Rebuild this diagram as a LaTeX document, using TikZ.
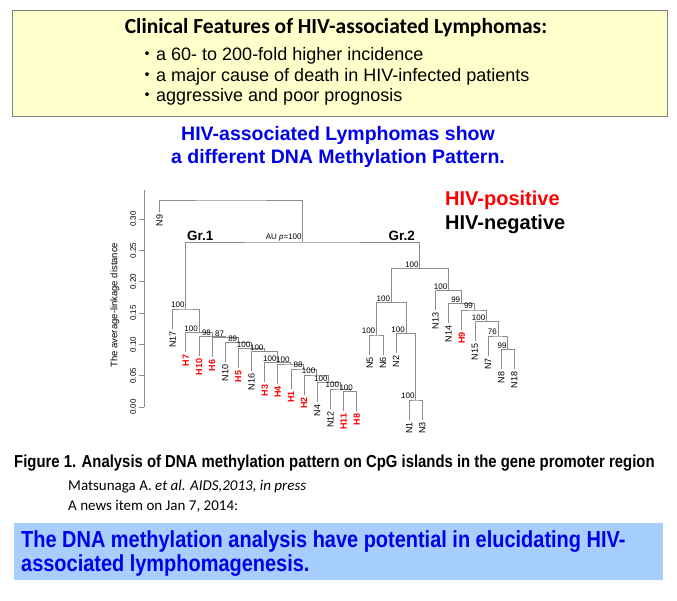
\documentclass[tikz,border=0pt]{standalone}
\usepackage{fontspec}
\setmainfont{Liberation Sans}
\newfontfamily\calibrifont{Carlito}
\newfontfamily\narrowfont[FakeStretch=0.86]{Liberation Sans}
\newfontfamily\jpfont{Noto Sans CJK JP}
\usetikzlibrary{positioning}
\definecolor{hivred}{RGB}{255,0,0}
\definecolor{headblue}{RGB}{0,0,235}
\definecolor{boxyellow}{RGB}{255,255,204}
\definecolor{boxblue}{RGB}{166,206,255}
\definecolor{treegray}{RGB}{140,140,140}
\definecolor{framegray}{RGB}{128,128,128}
\newcommand{\treefont}{\fontsize{8}{9}\selectfont}
\tikzset{
  treeline/.style={draw=treegray, line width=0.8pt},
  aup/.style={anchor=south east, inner sep=1pt, font=\treefont},
  leafN/.style={rotate=90, anchor=east, inner sep=1pt, font=\fontsize{9}{10}\selectfont},
  leafH/.style={leafN, text=hivred, font=\fontsize{9}{10}\selectfont\bfseries},
  featbox/.style={draw=framegray, fill=boxyellow, line width=0.8pt, minimum width=655pt, minimum height=106pt},
  featitem/.style={anchor=west, inner sep=0pt, font=\fontsize{18}{21}\selectfont},
  heading/.style={text=headblue, inner sep=1pt, font=\bfseries\fontsize{19.5}{22}\selectfont},
  legend/.style={anchor=west, inner sep=0pt, font=\bfseries\fontsize{20}{23}\selectfont},
  grp/.style={inner sep=1pt, font=\bfseries\fontsize{13.5}{15}\selectfont},
  conclbox/.style={fill=boxblue, minimum width=649pt, minimum height=57pt},
  concltext/.style={anchor=west, text=headblue, align=left, inner sep=0pt,
    font=\narrowfont\bfseries\fontsize{23.2}{24}\selectfont}
}
\begin{document}
\begin{tikzpicture}[x=1pt,y=-1pt]
\fill[white] (0,0) rectangle (677,600);
\useasboundingbox (0,0) rectangle (677,600);
% clinical features
\node[featbox] (feat) at (339.5,63) {};
\node[font=\calibrifont\bfseries\fontsize{21.5}{24}\selectfont] (feattitle) at (336,28) {Clinical Features of HIV-associated Lymphomas:};
\node[featitem] (item1) at (138,56) {{\jpfont ・}a 60- to 200-fold higher incidence};
\node[featitem] (item2) at (138,77) {{\jpfont ・}a major cause of death in HIV-infected patients};
\node[featitem] (item3) at (138,97) {{\jpfont ・}aggressive and poor prognosis};
\node[heading] (head1) at (338,135) {HIV-associated Lymphomas show};
\node[heading, below=3pt of head1] (head2) {a different DNA Methylation Pattern.};
\node[legend, text=hivred] (pos) at (445,200) {HIV-positive};
\node[legend] (neg) at (445,224) {HIV-negative};
% axis
\draw[treeline] (144,407) -- (144,190);
\foreach \t/\lab in {0/0.00,1/0.05,2/0.10,3/0.15,4/0.20,5/0.25,6/0.30}{
  \draw[treeline] (144,407-31.3*\t) -- (139,407-31.3*\t);
  \node[rotate=90, inner sep=0pt, font=\treefont] (tick\t) at (133,407-31.3*\t) {\lab};
}
\node[rotate=90, font=\fontsize{9.5}{11}\selectfont] (ylab) at (115,305) {The average-linkage distance};
% leaves
\foreach \nm/\i/\ye/\st in {N9/0/212/leafN, N17/1/328.5/leafN, H7/2/351.8/leafH, H10/3/355.8/leafH,
  H6/4/356.8/leafH, N10/5/362.2/leafN, H5/6/367.8/leafH, N16/7/371.2/leafN, H3/8/381.8/leafH,
  H4/9/383.5/leafH, H1/10/388.5/leafH, H2/11/394.5/leafH, N4/12/401.8/leafN, N12/13/408.5/leafN,
  H11/14/411/leafH, H8/15/411/leafH, N5/16/354.5/leafN, N6/17/354.5/leafN, N2/18/352.8/leafN,
  N1/19/419.5/leafN, N3/20/419.5/leafN, N13/21/310.2/leafN, N14/22/323.2/leafN, H9/23/329.5/leafH,
  N15/24/341.2/leafN, N7/25/355.5/leafN, N8/26/369/leafN, N18/27/369/leafN}{
  \coordinate (\nm) at (159.56+13.14*\i,\ye);
  \node[\st] (lab-\nm) at ([yshift=-1.5pt]\nm) {\nm};
}
% joins
\coordinate (g1n) at (350.09,391.5);
\coordinate (g1m) at (340.24,389);
\coordinate (g1l) at (328.74,382.3);
\coordinate (g1k) at (316.42,375);
\coordinate (g1j) at (303.69,369);
\coordinate (g1i) at (290.76,364);
\coordinate (g1h) at (277.72,362.3);
\coordinate (g1g) at (264.63,351.7);
\coordinate (g1f) at (251.52,348.3);
\coordinate (g1e) at (238.39,342.7);
\coordinate (g1d) at (225.26,337.3);
\coordinate (g1c) at (212.12,336.3);
\coordinate (g1b) at (198.98,332.3);
\coordinate (g1a) at (185.84,309);
\coordinate (g2p) at (507.77,349.5);
\coordinate (g2o) at (497.92,336);
\coordinate (g2q) at (486.42,321.7);
\coordinate (g2r) at (474.10,310);
\coordinate (g2s) at (461.37,303.7);
\coordinate (g2t) at (448.44,290.7);
\coordinate (g2m) at (415.79,400);
\coordinate (g2k) at (405.94,333.3);
\coordinate (g2j) at (376.37,335);
\coordinate (g2l) at (391.16,302.3);
\coordinate (g2) at (419.80,268.3);
\coordinate (top) at (302.82,242);
\coordinate (root) at (231.19,200);
\foreach \a/\p/\b in {H11/g1n/H8, N12/g1m/g1n, N4/g1l/g1m, H2/g1k/g1l, H1/g1j/g1k, H4/g1i/g1j,
  H3/g1h/g1i, N16/g1g/g1h, H5/g1f/g1g, N10/g1e/g1f, H6/g1d/g1e, H10/g1c/g1d, H7/g1b/g1c,
  N17/g1a/g1b, N8/g2p/N18, N7/g2o/g2p, N15/g2q/g2o, H9/g2r/g2q, N14/g2s/g2r, N13/g2t/g2s,
  N1/g2m/N3, N2/g2k/g2m, N5/g2j/N6, g2j/g2l/g2k, g2l/g2/g2t, g1a/top/g2, N9/root/top}
  \draw[treeline] (\a) |- (\p) -| (\b);
\foreach \p/\v in {g1m/100, g1l/100, g1k/100, g1j/88, g1i/100, g1h/100, g1g/100,
  g1f/100, g1e/89, g1d/87, g1c/98, g1b/100, g1a/100, g2p/99, g2o/76, g2q/100, g2r/99, g2s/99,
  g2t/100, g2m/100, g2k/100, g2j/100, g2l/100, g2/100}
  \node[aup] (v-\p) at (\p) {\v};
\node[aup, xshift=4pt] (v-g1n) at (g1n) {100};
\node[aup] (v-top) at (top) {AU \textit{p}=100};
\node[grp, anchor=south west] (gr1) at (185.84,242) {Gr.1};
\node[grp, anchor=south east] (gr2) at (416,242) {Gr.2};
% caption and note
\node[anchor=west, inner sep=0pt, font=\narrowfont\bfseries\fontsize{17.3}{20}\selectfont] (fig) at (14,463) {Figure 1. Analysis of DNA methylation pattern on CpG islands in the gene promoter region};
\node[anchor=west, inner sep=0pt, font=\calibrifont\fontsize{15}{18}\selectfont] (cite) at (68,487) {Matsunaga A. \textit{et al. AIDS,2013, in press}};
\node[anchor=west, inner sep=0pt, font=\calibrifont\fontsize{15}{18}\selectfont] (news) at (68,506) {A news item on Jan 7, 2014:};
\node[conclbox] (concl) at (338.5,551.5) {};
\node[concltext] (concltxt) at (21,554) {The DNA methylation analysis have potential in elucidating HIV-\\associated lymphomagenesis.};
\end{tikzpicture}
\end{document}
